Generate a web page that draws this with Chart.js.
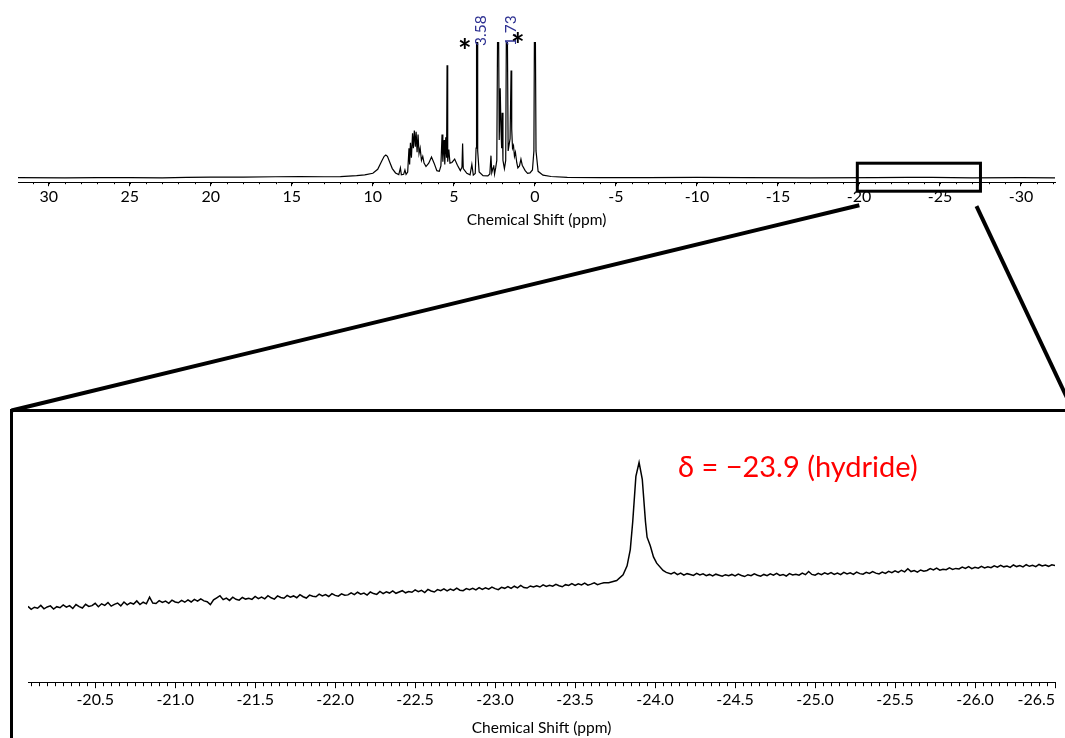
<!DOCTYPE html>
<html>
<head>
<meta charset="utf-8">
<title>1H NMR - hydride region</title>
<script src="https://cdn.jsdelivr.net/npm/chart.js@4.4.1/dist/chart.umd.min.js"></script>
<style>
  html, body { margin: 0; padding: 0; background: #fff; }
  body { width: 1065px; height: 738px; position: relative; overflow: hidden; }
  #full { position: absolute; left: 0; top: 0; }
  #zoomFrame { position: absolute; left: 10px; top: 409px; width: 1060px; height: 340px;
               border-top: 3px solid #000; border-left: 3px solid #000; }
  #zoom { position: absolute; left: 0; top: 0; }
  #links { position: absolute; left: 0; top: 0; pointer-events: none; }
</style>
</head>
<body>
<canvas id="full" width="1065" height="240"></canvas>
<div id="zoomFrame"><canvas id="zoom" width="1052" height="326"></canvas></div>
<svg id="links" width="1065" height="738"></svg>
<script>
// full spectrum (ppm / relative intensity, 100 = top of plot)
const fullShift = [
  31.9, 29, 27, 25, 23, 21.5, 20, 18, 16, 14.5,
  13, 12, 11.5, 11, 10.5, 10.0, 9.7, 9.45, 9.3, 9.2,
  9.1, 8.95, 8.8, 8.6, 8.4, 8.3, 8.24, 8.1, 8.02, 7.95,
  7.85, 7.77, 7.73, 7.68, 7.62, 7.55, 7.5, 7.44, 7.38, 7.33,
  7.27, 7.21, 7.15, 7.08, 7.0, 6.92, 6.84, 6.72, 6.55, 6.38,
  6.22, 6.05, 5.9, 5.8, 5.73, 5.68, 5.6, 5.56, 5.5, 5.45,
  5.42, 5.38, 5.31, 5.24, 5.12, 4.95, 4.78, 4.6, 4.5, 4.46,
  4.42, 4.2, 4.0, 3.89, 3.8, 3.68, 3.63, 3.60, 3.56, 3.53,
  3.44, 3.2, 2.9, 2.78, 2.71, 2.66, 2.58, 2.54, 2.49, 2.42,
  2.35, 2.29, 2.25, 2.2, 2.14, 2.09, 2.05, 2.02, 1.97, 1.88,
  1.8, 1.75, 1.71, 1.65, 1.53, 1.47, 1.43, 1.38, 1.32, 1.26,
  1.2, 1.12, 1.05, 0.95, 0.86, 0.78, 0.6, 0.45, 0.3, 0.15,
  0.06, 0.02, -0.02, -0.07, -0.2, -0.5, -1.0, -2.0, -4, -7,
  -10, -13, -17, -21, -23, -24.5, -27, -30, -32.1
];
const fullSignal = [
  0.3, 0.2, 0.4, 0.3, 0.2, 0.5, 0.8, 0.7, 1.0, 1.2,
  1.0, 1.1, 1.4, 1.8, 2.4, 3.6, 6.5, 12.5, 16, 17,
  16, 11.5, 7, 3.8, 2.6, 7.5, 2.4, 2.8, 6, 2.8,
  4.5, 22, 10, 26, 15, 33, 22, 35, 23, 34,
  19, 32, 18, 22, 13, 16, 11, 8.5, 11, 15.5,
  11, 5.5, 5, 9, 32, 12, 28, 10, 30, 15,
  83, 12, 21, 11, 11.5, 14, 9.5, 5.5, 8, 25.5,
  7, 3.5, 2.4, 10, 2.2, 3.5, 22, 130, 130, 20,
  4.5, 1.8, 1.6, 3, 16.5, 4, 7.5, 9.5, 3, 7.5,
  13, 130, 130, 28, 66, 35, 22, 48, 13, 7,
  13, 130, 130, 20, 29, 79, 36, 22, 24, 16,
  19, 11.5, 7.5, 9, 14, 9.5, 5.5, 3.5, 3.8, 6,
  20, 130, 130, 20, 5, 2.2, 1.2, 0.6, 0.4, 0.3,
  0.5, 0.4, 0.2, 0.3, 0.6, 0.5, 0.2, 0.3, 0.2
];
const fullMin = -32.1, fullMax = 31.9;
const peakLabels = ['3.58', '1.73'];
const peakLabelShift = [3.58, 1.73];
const solventShift = [4.32, 1.05];
const zoomBox = [-19.9, -27.5];

// hydride region, sampled every 0.02 ppm either side of the peak
const hydridePeak = -23.9;
const zoomStep = 0.02;
const zoomLeftStart = -20.08;
const zoomLeftSignal = [
  28.9, 27.8, 28.6, 28.2, 29.3, 28.0, 28.7, 29.1, 27.9, 28.8,
  28.4, 29.5, 28.6, 29.2, 28.1, 29.6, 28.8, 28.3, 29.7, 28.9,
  29.2, 30.1, 28.8, 29.9, 29.3, 30.4, 29.0, 29.7, 30.2, 29.1,
  30.6, 29.5, 30.3, 29.8, 31.0, 29.6, 30.5, 29.9, 32.4, 30.2,
  30.0, 31.1, 30.4, 30.9, 30.1, 31.3, 30.6, 30.3, 31.2, 30.5,
  31.4, 30.6, 31.6, 30.9, 31.8, 31.0, 30.7, 29.6, 31.4, 32.2,
  33.0, 31.5, 32.1, 31.2, 32.4, 31.6, 31.3, 32.3, 31.7, 32.0,
  31.6, 32.7, 31.9, 32.5, 31.8, 33.0, 32.2, 31.7, 32.9, 32.3,
  32.0, 33.1, 32.4, 32.9, 32.2, 33.4, 32.6, 32.1, 33.2, 32.8,
  32.6, 33.6, 32.9, 33.4, 32.7, 33.8, 33.1, 32.8, 33.7, 33.2,
  33.3, 34.1, 33.4, 34.3, 33.6, 34.0, 33.2, 34.4, 33.8, 33.5,
  34.6, 33.8, 34.5, 34.0, 34.8, 33.9, 34.4, 34.9, 34.1, 34.6,
  34.3, 35.2, 34.5, 35.0, 34.2, 35.4, 34.8, 34.4, 35.3, 34.9,
  35.6, 34.8, 35.5, 35.0, 35.9, 35.1, 34.9, 35.7, 35.3, 35.8,
  35.2, 36.1, 35.4, 36.0, 35.5, 36.3, 35.7, 35.3, 36.2, 35.8,
  36.5, 35.8, 36.6, 36.0, 36.9, 36.1, 35.9, 36.7, 36.3, 36.8,
  36.3, 37.1, 36.5, 37.0, 36.6, 37.3, 36.8, 36.4, 37.2, 36.9,
  37.6, 36.9, 37.5, 37.1, 37.8, 37.0, 37.4, 37.9, 37.2, 37.6,
  37.9
];
const peakShift = [-23.71, -23.76, -23.80, -23.825, -23.845, -23.86, -23.88, -23.90,
                   -23.92, -23.94, -23.95, -23.97, -23.99, -24.01, -24.05, -24.07];
const peakSignal = [37.9, 38.8, 41.0, 44.4, 50.6, 61.0, 78.5, 83.8,
                    77.4, 61.2, 55.3, 52.0, 47.8, 45.4, 42.6, 41.9];
const zoomRightStart = -24.10;
const zoomRightSignal = [
  41.3, 41.9, 41.0, 41.6, 40.8, 41.4, 41.1, 40.7, 41.5, 40.9,
  41.3, 40.6, 41.1, 40.5, 41.2, 40.8, 40.4, 41.0, 40.6, 41.1,
  40.5, 41.2, 40.7, 40.3, 41.0, 40.6, 41.3, 40.8, 40.4, 41.1,
  40.6, 41.3, 40.8, 41.5, 40.7, 41.1, 40.5, 41.4, 40.9, 41.2,
  40.8, 41.6, 41.0, 42.2, 41.1, 40.8, 41.5, 41.0, 41.7, 41.2,
  41.8, 41.1, 41.6, 41.0, 41.9, 41.3, 41.7, 41.1, 42.0, 41.4,
  41.2, 41.9, 41.5, 42.2, 41.6, 41.3, 42.0, 41.5, 42.3, 41.8,
  42.5, 41.9, 42.7, 42.1, 43.3, 42.2, 42.6, 42.0, 42.8, 42.3,
  42.6, 43.3, 42.8, 43.5, 42.7, 43.1, 42.9, 43.6, 43.0, 43.4,
  43.2, 43.9, 43.4, 44.1, 43.3, 43.8, 43.5, 44.2, 43.6, 44.0,
  43.7, 44.4, 43.9, 44.6, 44.0, 44.3, 43.8, 44.7, 44.1, 44.5,
  44.0, 44.8, 44.2, 44.6, 44.1, 44.9, 44.3, 44.7, 44.2, 44.8,
  44.5
];
const zoomTicks = [-26.5, -26.0, -25.5, -25.0, -24.5, -24.0, -23.5, -23.0, -22.5, -22.0, -21.5, -21.0, -20.5];
const zoomMin = -26.5, zoomMax = -20.08;

const FONT = 'Lato, "Open Sans", sans-serif';

// small ticks between the labelled ones
const minorTicks = {
  id: 'minorTicks',
  afterDraw(chart, args, opts) {
    const scale = chart.scales.x;
    const ctx = chart.ctx;
    const first = Math.ceil(scale.min / opts.step - 1e-6);
    const last = Math.floor(scale.max / opts.step + 1e-6);
    ctx.save();
    ctx.strokeStyle = '#000';
    ctx.lineWidth = 1;
    ctx.beginPath();
    for (let k = first; k <= last; k++) {
      const x = Math.round(scale.getPixelForValue(k * opts.step)) + 0.5;
      ctx.moveTo(x, scale.top);
      ctx.lineTo(x, scale.top + opts.length);
    }
    ctx.stroke();
    ctx.restore();
  }
};

// zoom window, integrals and solvent asterisks on the full spectrum
const fullMarks = {
  id: 'fullMarks',
  afterDraw(chart) {
    const { ctx, chartArea } = chart;
    const x = chart.scales.x;
    ctx.save();
    const l = x.getPixelForValue(zoomBox[0]);
    const r = x.getPixelForValue(zoomBox[1]);
    ctx.strokeStyle = '#000';
    ctx.lineWidth = 3;
    ctx.strokeRect(l, chartArea.bottom - 19, r - l, 28);

    ctx.fillStyle = '#2e3192';
    ctx.font = '15.5px ' + FONT;
    ctx.textAlign = 'left';
    ctx.textBaseline = 'middle';
    peakLabelShift.forEach((s, i) => {
      ctx.save();
      ctx.translate(x.getPixelForValue(s) + 4, 46);
      ctx.rotate(-Math.PI / 2);
      ctx.fillText(peakLabels[i], 0, 0);
      ctx.restore();
    });

    ctx.fillStyle = '#000';
    ctx.font = 'bold 32px ' + FONT;
    ctx.textAlign = 'center';
    ctx.textBaseline = 'alphabetic';
    const starY = [63, 57];
    solventShift.forEach((s, i) => ctx.fillText('*', x.getPixelForValue(s), starY[i]));
    ctx.restore();
  }
};

const hydrideNote = {
  id: 'hydrideNote',
  afterDraw(chart) {
    const ctx = chart.ctx;
    ctx.save();
    ctx.fillStyle = '#ff0000';
    ctx.font = '29px ' + FONT;
    ctx.textAlign = 'left';
    ctx.textBaseline = 'alphabetic';
    ctx.fillText('δ = −' + Math.abs(hydridePeak).toFixed(1) + ' (hydride)', 665, 65);
    ctx.restore();
  }
};

const axisTitle = (pad) => ({
  display: true,
  text: 'Chemical Shift (ppm)',
  color: '#000',
  font: { family: FONT, size: 15.5 },
  padding: { top: pad, bottom: 0 }
});

const fullChart = new Chart(document.getElementById('full'), {
  type: 'line',
  data: {
    datasets: [{
      data: fullShift.map((s, i) => ({ x: s, y: fullSignal[i] })),
      borderColor: '#000',
      borderWidth: 1.2,
      pointRadius: 0,
      tension: 0,
      fill: false
    }]
  },
  options: {
    responsive: false,
    animation: false,
    layout: { padding: { left: 18, right: 10, top: 42, bottom: 11 } },
    plugins: {
      legend: { display: false },
      tooltip: { enabled: false },
      minorTicks: { step: 1, length: 2 }
    },
    scales: {
      x: {
        type: 'linear',
        reverse: true,
        min: fullMin,
        max: fullMax,
        border: { display: true, color: '#000', width: 1 },
        grid: { drawOnChartArea: false, drawTicks: true, tickLength: 4, tickColor: '#000' },
        ticks: {
          stepSize: 5,
          includeBounds: false,
          autoSkip: false,
          maxRotation: 0,
          padding: 1,
          color: '#000',
          font: { family: FONT, size: 16 },
          callback: (v) => String(v)
        },
        title: axisTitle(3)
      },
      y: { display: false, min: -3, max: 100 }
    }
  },
  plugins: [minorTicks, fullMarks]
});

const zoomPoints = [];
zoomLeftSignal.forEach((v, i) => zoomPoints.push({ x: zoomLeftStart - i * zoomStep, y: v }));
peakShift.forEach((s, i) => zoomPoints.push({ x: s, y: peakSignal[i] }));
zoomRightSignal.forEach((v, i) => zoomPoints.push({ x: zoomRightStart - i * zoomStep, y: v }));

const zoomChart = new Chart(document.getElementById('zoom'), {
  type: 'line',
  data: {
    datasets: [{
      data: zoomPoints,
      borderColor: '#000',
      borderWidth: 1.5,
      pointRadius: 0,
      tension: 0,
      fill: false
    }]
  },
  options: {
    responsive: false,
    animation: false,
    layout: { padding: { left: 15, right: 10, top: 8, bottom: 1 } },
    plugins: {
      legend: { display: false },
      tooltip: { enabled: false },
      minorTicks: { step: 0.05, length: 4 }
    },
    scales: {
      x: {
        type: 'linear',
        reverse: true,
        min: zoomMin,
        max: zoomMax,
        afterBuildTicks: (scale) => {
          scale.ticks = zoomTicks.concat([zoomMax]).map(v => ({ value: v }));
        },
        border: { display: true, color: '#000', width: 1 },
        grid: {
          drawOnChartArea: false,
          drawTicks: true,
          tickLength: 6,
          tickColor: (c) => (c.tick && c.tick.value === zoomMax) ? 'rgba(0,0,0,0)' : '#000'
        },
        ticks: {
          align: 'inner',
          autoSkip: false,
          maxRotation: 0,
          padding: 2,
          color: '#000',
          font: { family: FONT, size: 16 },
          callback: (v) => v === zoomMax ? '' : v.toFixed(1)
        },
        title: axisTitle(7)
      },
      y: { display: false, min: 0, max: 100 }
    }
  },
  plugins: [minorTicks, hydrideNote]
});

// lines from the zoom window down to the expanded panel
function drawLinks() {
  const xs = fullChart.scales.x;
  const l = xs.getPixelForValue(zoomBox[0]);
  const r = xs.getPixelForValue(zoomBox[1]);
  const boxBottom = fullChart.chartArea.bottom + 9;
  const lines = [
    [l + 2, boxBottom + 14, 11.5, 410.5],
    [r - 4, boxBottom + 15, 1073, 410.5]
  ];
  document.getElementById('links').innerHTML = lines.map(([x1, y1, x2, y2]) =>
    `<line x1="${x1}" y1="${y1}" x2="${x2}" y2="${y2}" stroke="#000" stroke-width="4"/>`).join('');
}
drawLinks();
</script>
</body>
</html>
